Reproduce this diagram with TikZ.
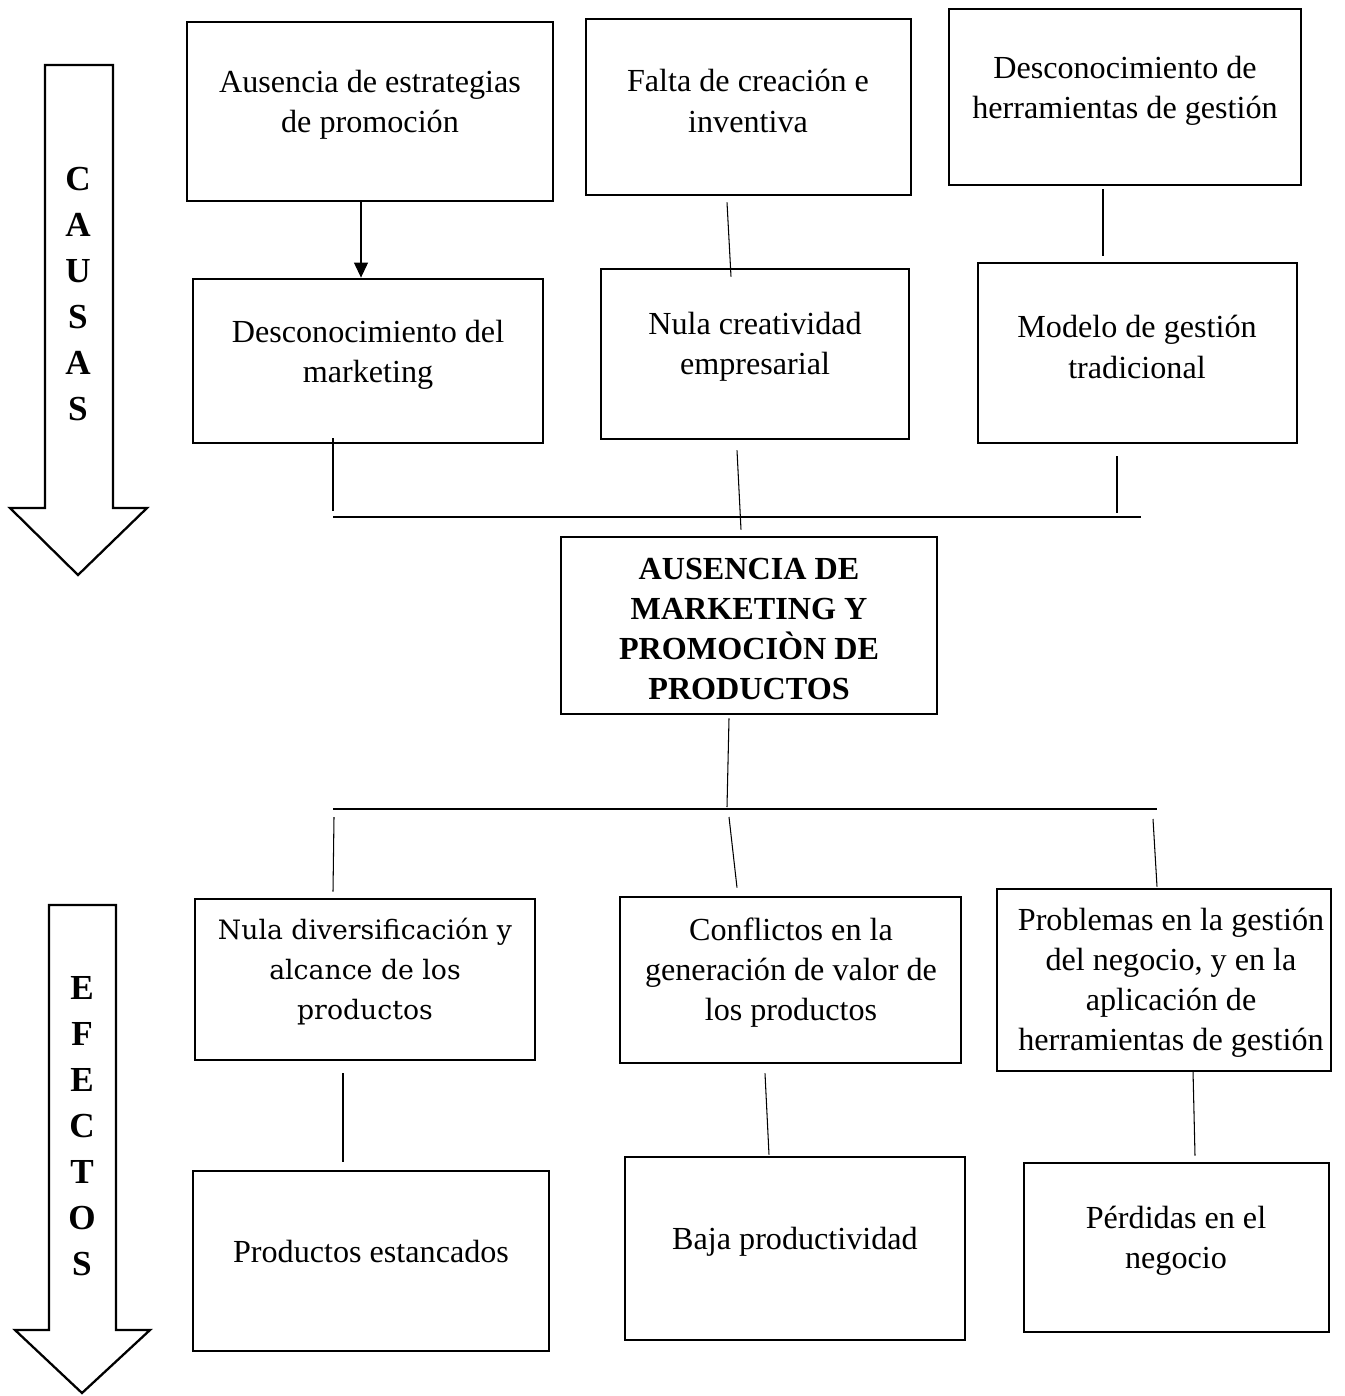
\documentclass[tikz,border=0pt]{standalone}
\usepackage{fontspec}
\setmainfont{Liberation Serif}
\newfontfamily\cambria{DejaVu Serif}
\usetikzlibrary{arrows.meta,calc,fit}

\begin{document}
\begin{tikzpicture}[x=0.02cm,y=-0.02cm,
    caja/.style={draw,line width=1.6pt,inner sep=0pt},
    texto/.style={align=center,inner sep=0pt,font=\fontsize{18.3}{22.8}\selectfont},
    textoc/.style={align=center,inner sep=0pt,font=\cambria\fontsize{15.2}{22.8}\selectfont},
    letras/.style={align=center,inner sep=0pt,font=\bfseries\fontsize{20}{26.2}\selectfont},
    linea/.style={line width=0.6pt},
    bloque/.style={draw,line width=1.3pt,fill=white}]

      % Page size
      \useasboundingbox (0,0) rectangle (1345,1396);

      % Big arrows on the left
      \draw[bloque] (45,65) -- (113,65) -- (113,508) -- (147,508) -- (78,575)
        -- (10,508) -- (45,508) -- cycle;
      \draw[bloque] (49,905) -- (116,905) -- (116,1330) -- (150,1330) -- (82,1393)
        -- (15,1330) -- (49,1330) -- cycle;
      \node[letras] (causas) at (78,294) {C\\A\\U\\S\\A\\S};
      \node[letras] (efectos) at (82,1126) {E\\F\\E\\C\\T\\O\\S};

      % Causes
      \node[caja,fit={(187,22) (553,201)}] (c1) {};
      \node[caja,fit={(586,19) (911,195)}] (c2) {};
      \node[caja,fit={(949,9) (1301,185)}] (c3) {};
      \node[caja,fit={(193,279) (543,443)}] (c4) {};
      \node[caja,fit={(601,269) (909,439)}] (c5) {};
      \node[caja,fit={(978,263) (1297,443)}] (c6) {};
      \node[texto] (t1) at (370,105) {Ausencia de estrategias\\de promoción};
      \node[texto] (t2) at (748,101) {Falta de creación e\\inventiva};
      \node[texto] (t3) at (1125,91) {Desconocimiento de\\herramientas de gestión};
      \node[texto] (t4) at (368,355) {Desconocimiento del\\marketing};
      \node[texto] (t5) at (755,347) {Nula creatividad\\empresarial};
      \node[texto] (t6) at (1137,347) {Modelo de gestión\\tradicional};

      % Central problem
      \node[caja,fit={(561,537) (937,714)}] (cen) {};
      \node[texto,font=\bfseries\fontsize{18.3}{22.8}\selectfont] (tcen) at (749,629)
        {AUSENCIA DE\\MARKETING Y\\PROMOCIÒN DE\\PRODUCTOS};

      % Effects
      \node[caja,fit={(195,899) (535,1060)}] (c7) {};
      \node[caja,fit={(620,897) (961,1063)}] (c8) {};
      \node[caja,fit={(997,889) (1331,1071)}] (c9) {};
      \node[caja,fit={(193,1171) (549,1351)}] (c10) {};
      \node[caja,fit={(625,1157) (965,1340)}] (c11) {};
      \node[caja,fit={(1024,1163) (1329,1332)}] (c12) {};
      \node[textoc] (t7) at (365,972) {Nula diversificación y\\alcance de los\\productos};
      \node[texto] (t8) at (791,973) {Conflictos en la\\generación de valor de\\los productos};
      \node[texto] (t9) at (1171,983) {Problemas en la gestión\\del negocio, y en la\\aplicación de\\herramientas de gestión};
      \node[texto] (t10) at (371,1251) {Productos estancados};
      \node[texto] (t11) at (795,1242) {Baja productividad};
      \node[texto] (t12) at (1176,1241) {Pérdidas en el\\negocio};

      % Bus lines
      \coordinate (bus1) at (333,517);
      \coordinate (bus1e) at (1141,517);
      \coordinate (bus2) at (333,809);
      \coordinate (bus2e) at (1157,809);
      \draw[linea] (bus1) -- (bus1e);
      \draw[linea] (bus2) -- (bus2e);

      % Connectors between causes
      \draw[linea,-{Triangle[length=0.3cm,width=0.28cm]}] ($(c1.south)+(-9,0)$) -- ($(c4.north)+(-7,0)$);
      \draw[linea] ($(c2.south)+(-21.5,6)$) -- ($(c5.north)+(-24,9)$);
      \draw[linea] ($(c3.south)+(-22,3)$) -- ($(c6.north)+(-34.5,-6)$);

      % Connectors into the central problem
      \draw[linea] ($(c4.south)+(-35,-6)$) -- ($(bus1)+(0,-6)$);
      \draw[linea] ($(c5.south)+(-18,10)$) -- ($(cen.north)+(-8,-6)$);
      \draw[linea] ($(c6.south)+(-20.5,12)$) -- ($(bus1e)+(-24,-4)$);
      \draw[linea] ($(cen.south)+(-20,3)$) -- ($(bus2)+(394,-2)$);

      % Connectors to the effects
      \draw[linea] ($(bus2)+(1,8)$) -- ($(c7.north)+(-32,-6)$);
      \draw[linea] ($(bus2)+(396,8)$) -- ($(c8.north)+(-53.5,-8)$);
      \draw[linea] ($(bus2e)+(-4,10)$) -- ($(c9.north)+(-7,-1)$);
      \draw[linea] ($(c7.south)+(-22,12)$) -- ($(c10.north)+(-28,-8)$);
      \draw[linea] ($(c8.south)+(-25.5,9)$) -- ($(c11.north)+(-26,-1)$);
      \draw[linea] ($(c9.south)+(29,-2)$) -- ($(c12.north)+(18.5,-6)$);
\end{tikzpicture}
\end{document}
